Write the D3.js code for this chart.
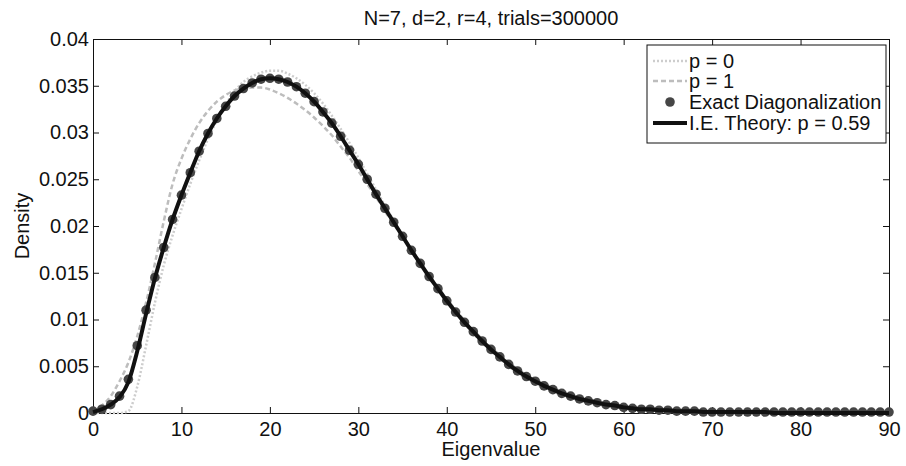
<!DOCTYPE html>
<html>
<head>
<meta charset="utf-8">
<script src="https://cdn.jsdelivr.net/npm/d3@7"></script>
<style>
  body { margin: 0; background: #fff; }
  svg text { font-family: "Liberation Sans", Arial, Helvetica, sans-serif; fill: #111; }
</style>
</head>
<body>
<svg id="chart" width="906" height="466"></svg>
<script>
// eigenvalue grid (one sample per unit)
const eigenvalues = d3.range(0, 91, 1);

// Exact Diagonalization (dots)
const exactDiag = [
  0.0002, 0.0004, 0.0009, 0.0018, 0.0036, 0.0072, 0.0110, 0.0145, 0.0177, 0.0207,
  0.0233, 0.0257, 0.0280, 0.0299, 0.0315, 0.0328, 0.0339, 0.0347, 0.0353, 0.0357,
  0.0358, 0.0357, 0.0354, 0.0349, 0.0342, 0.0333, 0.0322, 0.0310, 0.0296, 0.0281,
  0.0266, 0.0250, 0.0234, 0.0219, 0.0204, 0.0189, 0.0174, 0.0160, 0.0146, 0.0133,
  0.0120, 0.0108, 0.0097, 0.0087, 0.0077, 0.0068, 0.0060, 0.0052, 0.0045, 0.0039,
  0.0034, 0.0029, 0.0025, 0.0021, 0.0018, 0.0015, 0.0013, 0.0011, 0.0009, 0.0008,
  0.0006, 0.0005, 0.0004, 0.0004, 0.0003, 0.0003, 0.0002, 0.0002, 0.0002, 0.0001,
  0.0001, 0.0001, 0.0001, 0.0001, 0.0001, 0.0001, 0.0001, 0.0001, 0.0001, 0.0001,
  0.0001, 0.0001, 0.0001, 0.0001, 0.0001, 0.0001, 0.0001, 0.0001, 0.0001, 0.0001,
  0.0001
];

// I.E. Theory, p = 0.59 (solid black)
const theory = [
  0.0001, 0.0004, 0.0009, 0.0017, 0.0033, 0.0066, 0.0106, 0.0144, 0.0177, 0.0207,
  0.0233, 0.0257, 0.0280, 0.0299, 0.0315, 0.0328, 0.0339, 0.0347, 0.0353, 0.0357,
  0.0358, 0.0357, 0.0354, 0.0349, 0.0342, 0.0333, 0.0322, 0.0310, 0.0296, 0.0281,
  0.0266, 0.0250, 0.0234, 0.0219, 0.0204, 0.0189, 0.0174, 0.0160, 0.0146, 0.0133,
  0.0120, 0.0108, 0.0097, 0.0087, 0.0077, 0.0068, 0.0060, 0.0052, 0.0045, 0.0039,
  0.0034, 0.0029, 0.0025, 0.0021, 0.0018, 0.0015, 0.0013, 0.0011, 0.0009, 0.0008,
  0.0006, 0.0005, 0.0004, 0.0004, 0.0003, 0.0003, 0.0002, 0.0002, 0.0002, 0.0001,
  0.0001, 0.0001, 0.0001, 0.0001, 0.0001, 0.0001, 0.0001, 0.0000, 0.0000, 0.0000,
  0.0000, 0.0000, 0.0000, 0.0000, 0.0000, 0.0000, 0.0000, 0.0000, 0.0000, 0.0000,
  0.0000
];

// p = 0 (light dotted)
const pZero = [
  0.0000, 0.0000, 0.0000, 0.0000, 0.0002, 0.0028, 0.0072, 0.0118, 0.0158, 0.0190,
  0.0218, 0.0245, 0.0270, 0.0293, 0.0313, 0.0330, 0.0344, 0.0354, 0.0360, 0.0364,
  0.0366, 0.0366, 0.0363, 0.0358, 0.0351, 0.0342, 0.0331, 0.0318, 0.0304, 0.0289,
  0.0273, 0.0256, 0.0239, 0.0222, 0.0206, 0.0190, 0.0175, 0.0160, 0.0146, 0.0132,
  0.0119, 0.0107, 0.0096, 0.0085, 0.0075, 0.0066, 0.0058, 0.0050, 0.0043, 0.0037,
  0.0032, 0.0027, 0.0023, 0.0019, 0.0016, 0.0013, 0.0011, 0.0009, 0.0007, 0.0006,
  0.0005, 0.0004, 0.0003, 0.0003, 0.0002, 0.0002, 0.0001, 0.0001, 0.0001, 0.0001,
  0.0000, 0.0000, 0.0000, 0.0000, 0.0000, 0.0000, 0.0000, 0.0000, 0.0000, 0.0000,
  0.0000, 0.0000, 0.0000, 0.0000, 0.0000, 0.0000, 0.0000, 0.0000, 0.0000, 0.0000,
  0.0000
];

// p = 1 (light dashed)
const pOne = [
  0.0002, 0.0008, 0.0018, 0.0034, 0.0054, 0.0082, 0.0118, 0.0160, 0.0205, 0.0245,
  0.0272, 0.0293, 0.0310, 0.0323, 0.0333, 0.0340, 0.0345, 0.0347, 0.0348, 0.0348,
  0.0346, 0.0342, 0.0337, 0.0331, 0.0324, 0.0316, 0.0307, 0.0297, 0.0285, 0.0273,
  0.0259, 0.0245, 0.0231, 0.0216, 0.0202, 0.0188, 0.0174, 0.0160, 0.0147, 0.0134,
  0.0122, 0.0110, 0.0099, 0.0089, 0.0079, 0.0070, 0.0062, 0.0054, 0.0047, 0.0041,
  0.0036, 0.0031, 0.0027, 0.0023, 0.0020, 0.0017, 0.0014, 0.0012, 0.0010, 0.0009,
  0.0007, 0.0006, 0.0005, 0.0004, 0.0004, 0.0003, 0.0003, 0.0002, 0.0002, 0.0002,
  0.0001, 0.0001, 0.0001, 0.0001, 0.0001, 0.0001, 0.0001, 0.0001, 0.0001, 0.0001,
  0.0000, 0.0000, 0.0000, 0.0000, 0.0000, 0.0000, 0.0000, 0.0000, 0.0000, 0.0000,
  0.0000
];

const xTicks = [0, 10, 20, 30, 40, 50, 60, 70, 80, 90];
const yTicks = [0, 0.005, 0.01, 0.015, 0.02, 0.025, 0.03, 0.035, 0.04];
const legendLabels = ['p = 0', 'p = 1', 'Exact Diagonalization', 'I.E. Theory: p = 0.59'];

const svg = d3.select('#chart');

const x = d3.scaleLinear().domain([0, 90]).range([93, 889]);
const y = d3.scaleLinear().domain([0, 0.04]).range([413, 39]);

// axes box (MATLAB style, ticks pointing inwards)
const fmtY = (d) => d === 0 ? '0' : String(+d.toFixed(3));

svg.append('g')
  .attr('transform', `translate(0,${y(0)})`)
  .call(d3.axisBottom(x).tickValues(xTicks).tickSizeInner(-6).tickSizeOuter(0).tickPadding(9).tickFormat(d3.format('d')))
  .call(g => g.selectAll('text').attr('font-size', 20));

svg.append('g')
  .attr('transform', `translate(0,${y(0.04)})`)
  .call(d3.axisTop(x).tickValues(xTicks).tickSizeInner(-6).tickSizeOuter(0).tickFormat(''));

svg.append('g')
  .attr('transform', `translate(${x(0)},0)`)
  .call(d3.axisLeft(y).tickValues(yTicks).tickSizeInner(-6).tickSizeOuter(0).tickPadding(4).tickFormat(fmtY))
  .call(g => g.selectAll('text').attr('font-size', 20));

svg.append('g')
  .attr('transform', `translate(${x(90)},0)`)
  .call(d3.axisRight(y).tickValues(yTicks).tickSizeInner(-6).tickSizeOuter(0).tickFormat(''));

svg.selectAll('.domain, .tick line').attr('stroke', '#111');

// curves
const line = d3.line()
  .x(d => x(d[0]))
  .y(d => y(d[1]))
  .curve(d3.curveMonotoneX);

const zip = (vals) => eigenvalues.map((e, i) => [e, vals[i]]);

svg.append('path')
  .attr('d', line(zip(pZero)))
  .attr('fill', 'none')
  .attr('stroke', '#cdcdcd')
  .attr('stroke-width', 2.5)
  .attr('stroke-dasharray', '2,2');

svg.append('path')
  .attr('d', line(zip(pOne)))
  .attr('fill', 'none')
  .attr('stroke', '#bdbdbd')
  .attr('stroke-width', 2.5)
  .attr('stroke-dasharray', '5,3');

svg.append('g')
  .selectAll('circle')
  .data(zip(exactDiag))
  .join('circle')
  .attr('cx', d => x(d[0]))
  .attr('cy', d => y(d[1]))
  .attr('r', 4.8)
  .attr('fill', '#464646');

svg.append('path')
  .attr('d', line(zip(theory)))
  .attr('fill', 'none')
  .attr('stroke', '#111')
  .attr('stroke-width', 4);

// title and axis labels
svg.append('text')
  .attr('x', (x(0) + x(90)) / 2)
  .attr('y', 25)
  .attr('text-anchor', 'middle')
  .attr('font-size', 20)
  .text('N=7, d=2, r=4, trials=300000');

svg.append('text')
  .attr('x', (x(0) + x(90)) / 2)
  .attr('y', 456)
  .attr('text-anchor', 'middle')
  .attr('font-size', 20)
  .text('Eigenvalue');

svg.append('text')
  .attr('transform', `translate(29,${(y(0) + y(0.04)) / 2}) rotate(-90)`)
  .attr('text-anchor', 'middle')
  .attr('font-size', 20)
  .text('Density');

// legend
const legend = svg.append('g');
legend.append('rect')
  .attr('x', 647).attr('y', 45)
  .attr('width', 239).attr('height', 98)
  .attr('fill', '#fff')
  .attr('stroke', '#111');

const rowY = [61, 81, 102, 123];
legendLabels.forEach((label, i) => {
  const ry = rowY[i];
  if (i === 0) {
    legend.append('line').attr('x1', 653).attr('x2', 687).attr('y1', ry).attr('y2', ry)
      .attr('stroke', '#cdcdcd').attr('stroke-width', 2.5).attr('stroke-dasharray', '2,2');
  } else if (i === 1) {
    legend.append('line').attr('x1', 653).attr('x2', 687).attr('y1', ry).attr('y2', ry)
      .attr('stroke', '#bdbdbd').attr('stroke-width', 2.5).attr('stroke-dasharray', '5,3');
  } else if (i === 2) {
    legend.append('circle').attr('cx', 670).attr('cy', ry).attr('r', 4.8).attr('fill', '#464646');
  } else {
    legend.append('line').attr('x1', 653).attr('x2', 687).attr('y1', ry).attr('y2', ry)
      .attr('stroke', '#111').attr('stroke-width', 4);
  }
  legend.append('text')
    .attr('x', 689)
    .attr('y', ry)
    .attr('dy', '0.36em')
    .attr('font-size', 20)
    .text(label);
});
</script>
</body>
</html>
